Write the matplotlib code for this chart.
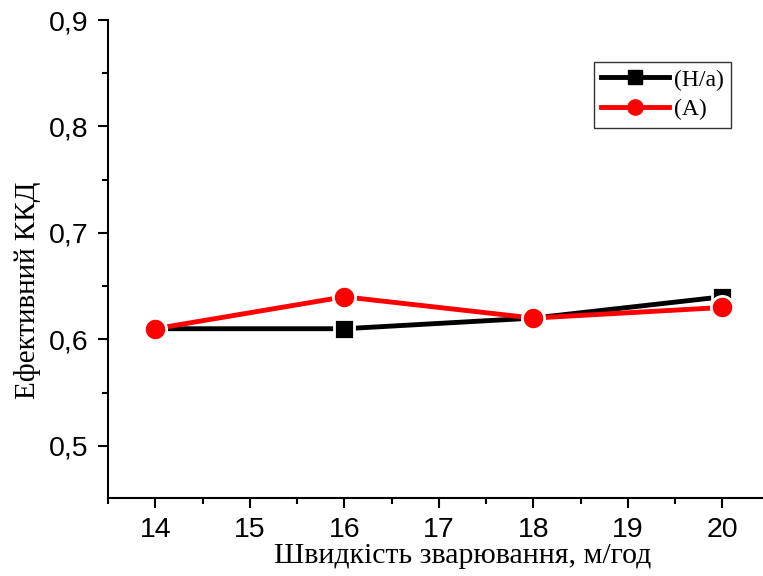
import matplotlib.pyplot as plt
from matplotlib.lines import Line2D
from matplotlib.ticker import MultipleLocator, FuncFormatter

speed = [14, 16, 18, 20]
eff_ha = [0.61, 0.61, 0.62, 0.64]
eff_a = [0.61, 0.64, 0.62, 0.63]
x_ticks = [14, 15, 16, 17, 18, 19, 20]

fig = plt.figure(figsize=(7.63, 5.76), dpi=100)
# the x axis runs past the right edge of the figure, as in the Origin layer
ax = fig.add_axes([108 / 763, 78 / 576, 709 / 763, 478 / 576])

ax.plot(speed, eff_ha, color='black', lw=3.5, marker='s', ms=15,
        mec='white', mew=2, zorder=3)
ax.plot(speed, eff_a, color='red', lw=3.5, marker='o', ms=16,
        mec='white', mew=2, zorder=4)

ax.set_xlim(13.5, 21)
ax.set_ylim(0.451, 0.9)
ax.set_xticks(x_ticks)
ax.xaxis.set_minor_locator(MultipleLocator(0.5))
ax.yaxis.set_major_locator(MultipleLocator(0.1))
ax.yaxis.set_minor_locator(MultipleLocator(0.05))
ax.yaxis.set_major_formatter(FuncFormatter(lambda v, p: f'{v:.1f}'.replace('.', ',')))

for s in ['top', 'right']:
    ax.spines[s].set_visible(False)
for s in ['left', 'bottom']:
    ax.spines[s].set_linewidth(1.5)
ax.tick_params(which='major', direction='out', length=7, width=1.5,
               labelsize=20.5, pad=7)
ax.tick_params(which='minor', direction='out', length=4, width=1.5)
for lab in ax.get_xticklabels() + ax.get_yticklabels():
    lab.set_family('Liberation Sans')

ax.set_xlabel('Швидкість зварювання, м/год', family='Liberation Serif',
              fontsize=21.5, labelpad=0)
ax.set_ylabel('Ефективний ККД', family='Liberation Serif', fontsize=21)
ax.yaxis.set_label_coords(-0.095, 0.435)

handles = [
    Line2D([], [], color='black', lw=3.5, marker='s', ms=10, label='(H/a)'),
    Line2D([], [], color='red', lw=3.5, marker='o', ms=11, label='(A)'),
]
leg = ax.legend(handles=handles, loc='upper left', bbox_to_anchor=(0.685, 0.912),
                prop={'family': 'Liberation Serif', 'size': 17},
                frameon=True, fancybox=False, edgecolor='black',
                handlelength=2.9, borderpad=0.3, labelspacing=0.35,
                handletextpad=0.2, borderaxespad=0)
leg.get_frame().set_linewidth(1.0)

fig.savefig('out.png', dpi=100)
